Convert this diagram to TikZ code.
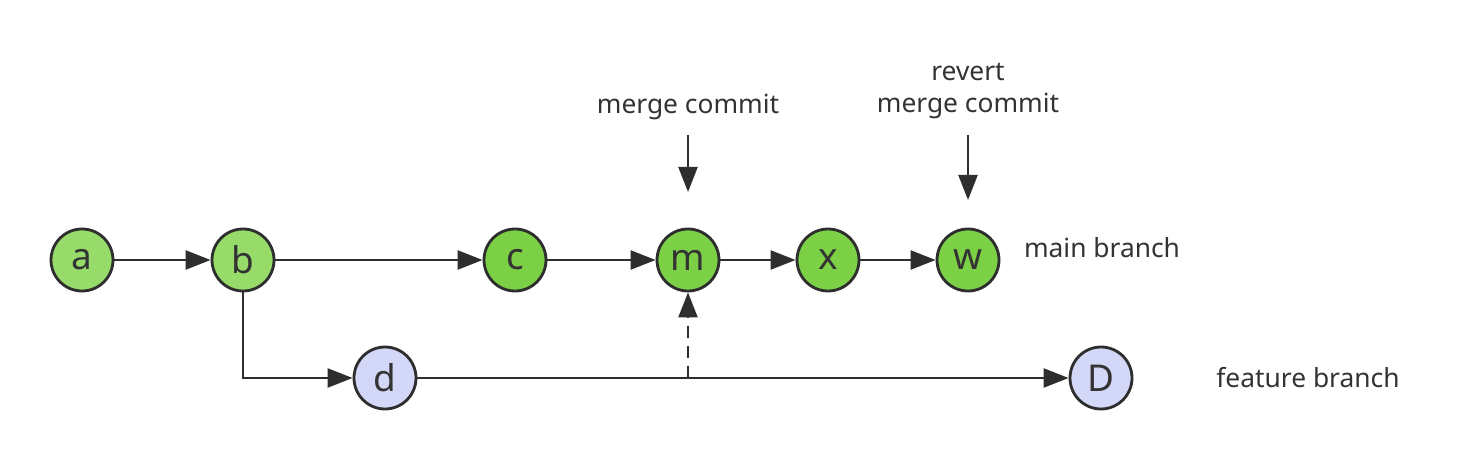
\documentclass[tikz,border=0pt]{standalone}
\usepackage{fontspec}
\setmainfont{Noto Sans}
\usetikzlibrary{arrows.meta}

\definecolor{lightgreen}{HTML}{97DB6B}
\definecolor{maingreen}{HTML}{7CD046}
\definecolor{lavender}{HTML}{D3D7F8}
\definecolor{linegray}{HTML}{2E2E2E}
\definecolor{textgray}{HTML}{333333}

\begin{document}
\begin{tikzpicture}[
    commit/.style={circle, draw=linegray, line width=1.6pt, minimum size=1.24cm,
      inner sep=0pt, text=textgray, font=\fontsize{21}{24}\selectfont},
    link/.style={draw=linegray, line width=1.3pt,
      -{Triangle[length=0.5cm, width=0.38cm]}},
    note/.style={text=textgray, align=center, font=\fontsize{15}{18}\selectfont}
  ]
  \useasboundingbox (0,0) rectangle (29.18,9.32);

  % Define commits
  \node[commit, fill=lightgreen] (a) at (1.64,4.12) {a};
  \node[commit, fill=lightgreen] (b) at (4.86,4.12) {b};
  \node[commit, fill=maingreen] (c) at (10.30,4.12) {c};
  \node[commit, fill=maingreen] (m) at (13.76,4.12) {m};
  \node[commit, fill=maingreen] (x) at (16.56,4.12) {x};
  \node[commit, fill=maingreen] (w) at (19.36,4.12) {w};
  \node[commit, fill=lavender] (d) at (7.70,1.76) {d};
  \node[commit, fill=lavender] (D) at (22.02,1.76) {D};

  % Define coordinates
  \coordinate (j) at (13.76,1.76);
  \coordinate (mtop) at (13.76,6.62);
  \coordinate (mend) at (13.76,5.48);
  \coordinate (wtop) at (19.36,6.62);
  \coordinate (wend) at (19.36,5.32);

  % Labels
  \node[note] (mlabel) at (13.76,7.18) {merge commit};
  \node[note] (wlabel) at (19.36,7.50) {revert\\merge commit};
  \node[note] (mainlabel) at (22.04,4.36) {main branch};
  \node[note] (featlabel) at (26.16,1.76) {feature branch};

  % Draw history
  \foreach \s/\t in {a/b, b/c, c/m, m/x, x/w} {
    \draw[link] (\s) -- (\t);
  }
  \draw[link] (b) |- (d);
  \draw[link] (d) -- (D);
  \draw[link, dash pattern=on 0.24cm off 0.16cm] (j) -- (m); % merge into main

  % Pointers to the commits
  \draw[link] (mtop) -- (mend);
  \draw[link] (wtop) -- (wend);

\end{tikzpicture}
\end{document}
